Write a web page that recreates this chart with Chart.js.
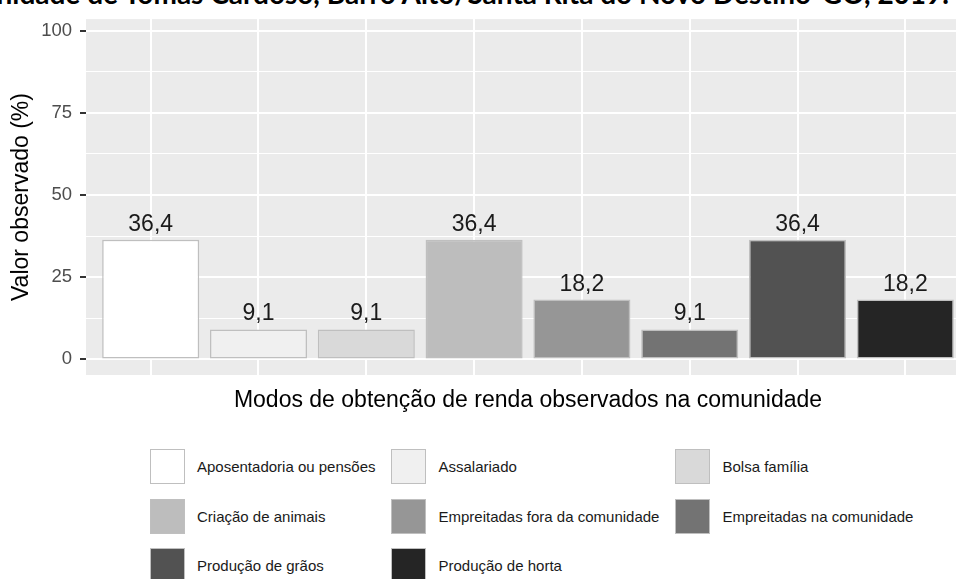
<!DOCTYPE html>
<html lang="pt-BR">
<head>
<meta charset="utf-8">
<title>Modos de obtenção de renda</title>
<script src="https://cdn.jsdelivr.net/npm/chart.js@4.4.1/dist/chart.umd.min.js"></script>
<style>
  html, body { margin:0; padding:0; background:#fff; }
  #wrap { position:relative; width:956px; height:579px; overflow:hidden; background:#fff; }
  #titulo { position:absolute; right:7px; top:-22px; white-space:nowrap; font:bold 28px Lato, "Open Sans", sans-serif; color:#000; line-height:30px; }
  #grafico { position:absolute; left:0; top:0; }
  #legenda { position:absolute; left:150px; top:449px; display:grid; grid-template-columns:auto auto auto; column-gap:16px; row-gap:14.5px; font:15px "Liberation Sans", Arial, sans-serif; color:#1a1a1a; }
  .item { display:flex; align-items:center; height:35px; }
  .chave { width:35px; height:35px; box-sizing:border-box; border:1.5px solid #BFBFBF; margin-right:12px; }
</style>
</head>
<body>
<div id="wrap">
  <div id="titulo">comunidade de Tomás Cardoso, Barro Alto/Santa Rita do Novo Destino-GO, 2019.</div>
  <canvas id="grafico" width="970" height="430"></canvas>
  <div id="legenda"></div>
</div>
<script>
// dados
const categorias = ['Aposentadoria ou pensões', 'Assalariado', 'Bolsa família', 'Criação de animais',
  'Empreitadas fora da comunidade', 'Empreitadas na comunidade', 'Produção de grãos', 'Produção de horta'];
const valores = [36.4, 9.1, 9.1, 36.4, 18.2, 9.1, 36.4, 18.2];
const cores = ['#FFFFFF', '#F0F0F0', '#D9D9D9', '#BDBDBD', '#969696', '#737373', '#525252', '#252525'];
const yTicks = [0, 25, 50, 75, 100];
const yMinor = [12.5, 37.5, 62.5, 87.5];

const fonte = '"Liberation Sans", Arial, sans-serif';
Chart.defaults.font.family = fonte;

function fmt(v){
  return v.toLocaleString('pt-BR', {minimumFractionDigits:1, maximumFractionDigits:1});
}

// fundo cinza do painel (estilo ggplot)
const painel = {
  id: 'painel',
  beforeDraw(chart){
    const {ctx, chartArea:a} = chart;
    ctx.save();
    ctx.fillStyle = '#EBEBEB';
    ctx.fillRect(a.left, a.top, a.right - a.left, a.bottom - a.top);
    ctx.restore();
  }
};

// rótulos acima das barras
const rotulos = {
  id: 'rotulos',
  afterDatasetsDraw(chart){
    const {ctx} = chart;
    const meta = chart.getDatasetMeta(0);
    ctx.save();
    ctx.font = '23px ' + fonte;
    ctx.fillStyle = '#1a1a1a';
    ctx.textAlign = 'center';
    ctx.textBaseline = 'alphabetic';
    meta.data.forEach((bar, i) => {
      ctx.fillText(fmt(valores[i]), bar.x, bar.y - 9);
    });
    ctx.restore();
  }
};

const isMajor = v => yTicks.includes(v);

new Chart(document.getElementById('grafico'), {
  type: 'bar',
  data: {
    datasets: [{
      data: valores.map((v, i) => ({x: i + 1, y: v})),
      backgroundColor: cores,
      borderColor: '#BFBFBF',
      borderWidth: 1.5,
      borderSkipped: false,
      barPercentage: 0.9,
      categoryPercentage: 1.0
    }]
  },
  options: {
    responsive: false,
    animation: false,
    layout: { padding: {top: 10, right: 0, bottom: 0, left: 0} },
    plugins: { legend: {display:false}, tooltip: {enabled:false} },
    scales: {
      x: {
        type: 'linear',
        min: 0.4,
        max: 8.6,
        offset: false,
        afterBuildTicks: s => { s.ticks = categorias.map((c, i) => ({value: i + 1})); },
        afterFit: s => { s.height = 55; },
        ticks: { display: false },
        grid: { color: '#FFFFFF', lineWidth: 2, drawTicks: false, offset: false },
        border: { display: false },
        title: {
          display: true,
          text: 'Modos de obtenção de renda observados na comunidade',
          color: '#000',
          font: {size: 23},
          padding: {top: 0, bottom: 16}
        }
      },
      y: {
        min: -4.75,
        max: 103.5,
        afterBuildTicks: s => { s.ticks = [...yTicks, ...yMinor].sort((a, b) => a - b).map(v => ({value: v})); },
        afterFit: s => { s.width = 86; },
        ticks: {
          autoSkip: false,
          padding: 8,
          color: '#4D4D4D',
          font: {size: 18.5},
          callback: v => isMajor(v) ? String(v) : ''
        },
        grid: {
          color: '#FFFFFF',
          lineWidth: c => isMajor(c.tick.value) ? 2 : 1,
          tickLength: 6,
          tickWidth: 2,
          tickColor: c => isMajor(c.tick.value) ? '#333333' : 'rgba(0,0,0,0)'
        },
        border: { display: false },
        title: {
          display: true,
          text: 'Valor observado (%)',
          color: '#000',
          font: {size: 23},
          padding: {top: 8, bottom: 0}
        }
      }
    }
  },
  plugins: [painel, rotulos]
});

// legenda em grade de 3 colunas
const legenda = document.getElementById('legenda');
categorias.forEach((nome, i) => {
  const item = document.createElement('div');
  item.className = 'item';
  item.innerHTML = `<span class="chave" style="background:${cores[i]}"></span><span>${nome}</span>`;
  legenda.appendChild(item);
});
</script>
</body>
</html>
